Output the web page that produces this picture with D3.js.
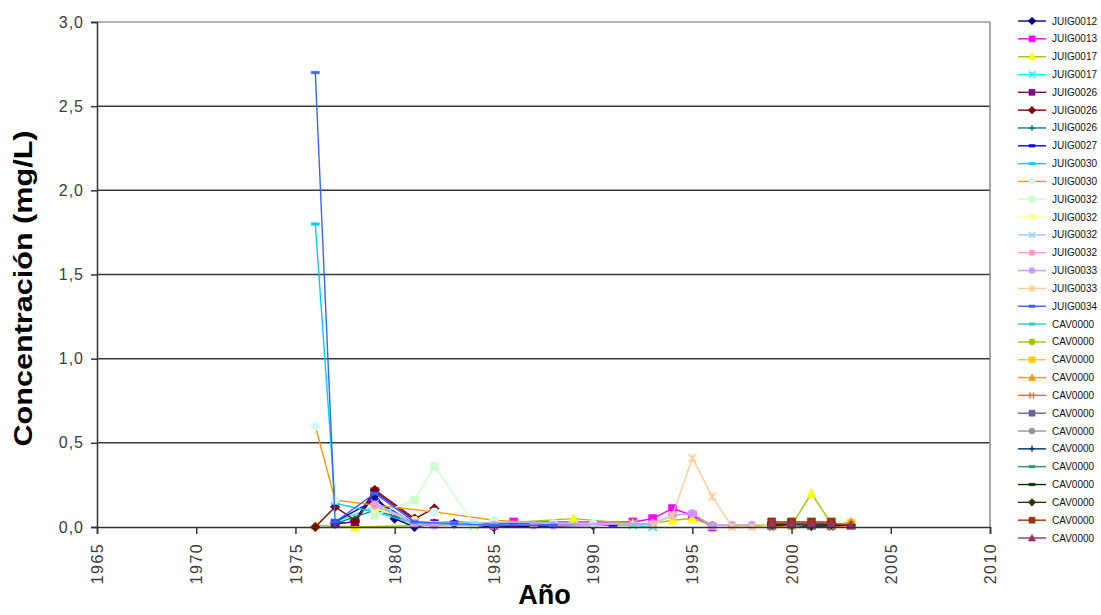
<!DOCTYPE html>
<html>
<head>
<meta charset="utf-8">
<script src="https://cdn.jsdelivr.net/npm/d3@7"></script>
<style>
  html, body { margin: 0; padding: 0; background: #fff; overflow: hidden; }
  text { font-family: "Liberation Sans", Arial, sans-serif; }
</style>
</head>
<body>
<svg id="chart" width="1101" height="615"></svg>
<script>
// Concentration (mg/L) per sampling point: [year, value]
const juig00123 = [[1977,0.02],[1978,0.03],[1979,0.19],[1980,0.05],[1981,0.0],[1982,0.02],[1983,0.02],[1985,0.0],[1990,0.01]];
const juig00138 = [[1985,0.01],[1986,0.03],[1992,0.03],[1993,0.05],[1994,0.11],[1995,0.07],[1996,0.0]];
const juig00174 = [[1976,0.01],[1978,0.0],[1985,0.02],[1989,0.05],[1992,0.02],[1993,0.02],[1994,0.04],[1995,0.05],[1996,0.01],[2000,0.01],[2001,0.20],[2002,0.02]];
const juig00175 = [[1977,0.03],[1979,0.12],[1981,0.03],[1984,0.01],[1992,0.01],[1993,0.0]];
const juig00261 = [[1977,0.02],[1978,0.03],[1979,0.21],[1981,0.04],[1982,0.02]];
const juig00262 = [[1976,0.0],[1977,0.12],[1978,0.04],[1979,0.22],[1981,0.05],[1982,0.11]];
const juig00263 = [[1977,0.02],[1979,0.10],[1981,0.03],[1983,0.02]];
const juig00271 = [[1977,0.03],[1979,0.16],[1981,0.02],[1983,0.03],[1985,0.02],[1987,0.02],[1988,0.01],[1990,0.02],[1991,0.01]];
const juig00301 = [[1976,1.80],[1977,0.14],[1979,0.09],[1981,0.02],[1983,0.02]];
const juig00302 = [[1976,0.60],[1977,0.16],[1979,0.13],[1982,0.09],[1985,0.04],[1988,0.02],[1990,0.02]];
const juig00321 = [[1979,0.07],[1981,0.16],[1982,0.36],[1984,0.02],[1985,0.03]];
const juig00322 = [[1979,0.11],[1981,0.04],[1984,0.01]];
const juig00323 = [[1979,0.14],[1981,0.03],[1992,0.02],[1993,0.01]];
const juig00324 = [[1979,0.13],[1981,0.02]];
const juig00331 = [[1981,0.02],[1982,0.01],[1985,0.01],[1987,0.01],[1988,0.01],[1993,0.02],[1994,0.07],[1995,0.08],[1996,0.01],[1997,0.01],[1998,0.01]];
const juig00332 = [[1993,0.01],[1994,0.07],[1995,0.41],[1996,0.18],[1997,0.0],[1998,0.0],[1999,0.01]];
const juig00341 = [[1976,2.70],[1977,0.03],[1979,0.20],[1981,0.03],[1983,0.02],[1985,0.01],[1988,0.01]];
const cav00001 = [[1999,0.01],[2000,0.01],[2001,0.01],[2002,0.01],[2003,0.01]];
const cav00002 = [[1999,0.02],[2000,0.01],[2001,0.02],[2002,0.01]];
const cav00003 = [[1999,0.01],[2000,0.01],[2001,0.01],[2002,0.02],[2003,0.02]];
const cav00004 = [[1999,0.01],[2000,0.02],[2001,0.01],[2002,0.01],[2003,0.03]];
const cav00005 = [[1999,0.0],[2000,0.01],[2001,0.01],[2002,0.0],[2003,0.01]];
const cav00006 = [[1999,0.01],[2000,0.02],[2001,0.01],[2002,0.01]];
const cav00007 = [[1999,0.02],[2000,0.01],[2001,0.02],[2002,0.01]];
const cav00008 = [[1999,0.01],[2000,0.01],[2001,0.0],[2002,0.01],[2003,0.01]];
const cav00009 = [[1999,0.02],[2000,0.01],[2001,0.01],[2002,0.02]];
const cav00010 = [[1999,0.01],[2000,0.02],[2001,0.02],[2002,0.01],[2003,0.01]];
const cav00011 = [[1999,0.02],[2000,0.02],[2001,0.01],[2002,0.02]];
const cav00012 = [[1999,0.03],[2000,0.03],[2001,0.03],[2002,0.03]];
const cav00013 = [[1999,0.02],[2000,0.02],[2001,0.02],[2002,0.02],[2003,0.01]];

// Legend labels (short point codes)
const seriesNames = [
  "JUIG0012","JUIG0013","JUIG0017","JUIG0017","JUIG0026","JUIG0026","JUIG0026",
  "JUIG0027","JUIG0030","JUIG0030","JUIG0032","JUIG0032","JUIG0032","JUIG0032",
  "JUIG0033","JUIG0033","JUIG0034",
  "CAV0000","CAV0000","CAV0000","CAV0000","CAV0000","CAV0000","CAV0000",
  "CAV0000","CAV0000","CAV0000","CAV0000","CAV0000","CAV0000"
];
const seriesValues = [
  juig00123, juig00138, juig00174, juig00175, juig00261, juig00262, juig00263,
  juig00271, juig00301, juig00302, juig00321, juig00322, juig00323, juig00324,
  juig00331, juig00332, juig00341,
  cav00001, cav00002, cav00003, cav00004, cav00005, cav00006, cav00007,
  cav00008, cav00009, cav00010, cav00011, cav00012, cav00013
];
const xTicks = [1965, 1970, 1975, 1980, 1985, 1990, 1995, 2000, 2005, 2010];
const yTicks = [0, 0.5, 1.0, 1.5, 2.0, 2.5, 3.0];

// Line colour, marker fill and marker shape for each series
const lineColors = [
  "#000080","#FF00FF","#99CC00","#00FFFF","#800080","#800000","#008080",
  "#0000FF","#00CCFF","#FF9900","#CCFFCC","#FFFF99","#99CCFF","#FF99CC",
  "#CC99FF","#FFCC99","#3366FF",
  "#33CCCC","#99CC00","#FFCC00","#FF9900","#FF6600","#666699","#969696",
  "#003366","#339966","#003300","#333300","#993300","#993366"
];
const markerColors = [
  "#000080","#FF00FF","#FFFF00","#00FFFF","#800080","#800000","#008080",
  "#0000FF","#00CCFF","#CCFFFF","#CCFFCC","#FFFF99","#99CCFF","#FF99CC",
  "#CC99FF","#FFCC99","#3366FF",
  "#33CCCC","#99CC00","#FFCC00","#FF9900","#FF6600","#666699","#969696",
  "#003366","#339966","#003300","#333300","#993300","#993366"
];
const markerShapes = [
  "diamond","square","triangle","x","square","diamond","plus",
  "dash","dash","circle","square","circle","x","circle",
  "circle","star","dash",
  "dash","circle","square","triangle","bars","square","circle",
  "plus","dash","dash","diamond","square","triangle"
];

const svg = d3.select("#chart");
const margin = { left: 97, right: 111, top: 22, bottom: 88 };
const W = 1101, H = 615;

const x = d3.scaleLinear().domain([1965, 2010]).range([margin.left, W - margin.right]);
const y = d3.scaleLinear().domain([0, 3]).range([H - margin.bottom, margin.top]);

// Horizontal gridlines
svg.append("g").selectAll("line")
  .data(yTicks.filter(v => v > 0))
  .join("line")
  .attr("x1", x(1965)).attr("x2", x(2010))
  .attr("y1", d => y(d)).attr("y2", d => y(d))
  .attr("stroke", d => d === 3 ? "#9a9a9a" : "#3a3a3a")
  .attr("stroke-width", 1.5);

// Right border of the plot area
svg.append("line")
  .attr("x1", x(2010)).attr("x2", x(2010))
  .attr("y1", y(3)).attr("y2", y(0))
  .attr("stroke", "#8a8a8a").attr("stroke-width", 1.5);

// Marker shapes
function markerPath(shape, s) {
  const h = s / 2;
  switch (shape) {
    case "diamond": return `M0,${-h-0.8}L${h+0.8},0L0,${h+0.8}L${-h-0.8},0Z`;
    case "square": return `M${-h},${-h}H${h}V${h}H${-h}Z`;
    case "triangle": return `M0,${-h-0.8}L${h+0.6},${h}L${-h-0.6},${h}Z`;
    case "circle": return d3.symbol(d3.symbolCircle, s * s * 0.8)();
    case "x": return `M${-h},${-h}L${h},${h}M${-h},${h}L${h},${-h}`;
    case "plus": return `M${-h},0H${h}M0,${-h}V${h}`;
    case "star": return `M${-h},${-h}L${h},${h}M${-h},${h}L${h},${-h}M0,${-h}V${h}`;
    case "dash": return `M${-h},-1.2H${h}V1.2H${-h}Z`;
    case "bars": return `M-2,${-h}V${h}M1.5,${-h}V${h}`;
  }
}
const strokeShapes = new Set(["x", "plus", "star", "bars"]);

function drawMarker(g, shape, color, size) {
  const p = g.append("path").attr("d", markerPath(shape, size));
  if (strokeShapes.has(shape)) {
    p.attr("fill", "none").attr("stroke", color).attr("stroke-width", 1.4);
  } else {
    p.attr("fill", color).attr("stroke", color).attr("stroke-width", 0.6);
  }
}

const line = d3.line().x(d => x(d[0])).y(d => y(d[1]));

// Series lines and markers
const plot = svg.append("g");
seriesValues.forEach((vals, i) => {
  const g = plot.append("g");
  g.append("path")
    .datum(vals)
    .attr("d", line)
    .attr("fill", "none")
    .attr("stroke", lineColors[i])
    .attr("stroke-width", 1.4);
  vals.forEach(d => {
    const m = g.append("g").attr("transform", `translate(${x(d[0])},${y(d[1])})`);
    drawMarker(m, markerShapes[i], markerColors[i], 8);
  });
});

// Axes
const yAxis = d3.axisLeft(y)
  .tickValues(yTicks)
  .tickFormat(d => d.toFixed(1).replace(".", ","))
  .tickSize(6).tickPadding(7);
const gy = svg.append("g").attr("transform", `translate(${x(1965)},0)`).call(yAxis);
gy.select(".domain").attr("stroke", "#333").attr("stroke-width", 1.5);
gy.selectAll(".tick line").attr("stroke", "#333").attr("stroke-width", 1.5);
gy.selectAll(".tick text")
  .attr("fill", "#3c3c3c")
  .style("font-size", "16px")
  .style("letter-spacing", "1px");

const xAxis = d3.axisBottom(x)
  .tickValues(xTicks)
  .tickFormat(d3.format("d"))
  .tickSize(7);
const gx = svg.append("g").attr("transform", `translate(0,${y(0)})`).call(xAxis);
gx.select(".domain").attr("stroke", "#333").attr("stroke-width", 1.5);
gx.selectAll(".tick line").attr("stroke", "#333").attr("stroke-width", 1.5);
gx.selectAll(".tick text")
  .attr("fill", "#3c3c3c")
  .attr("transform", "rotate(-90)")
  .attr("x", -16).attr("y", 0).attr("dy", "0.35em")
  .style("text-anchor", "end")
  .style("font-size", "16px")
  .style("letter-spacing", "1.4px");

// Axis titles
svg.append("text")
  .attr("transform", `translate(${W / 2 - 6},${H - 11})`)
  .attr("text-anchor", "middle")
  .style("font-size", "27px").style("font-weight", "bold")
  .attr("fill", "#000")
  .text("Año");

svg.append("text")
  .attr("transform", `translate(32,${(y(0) + y(3)) / 2 + 14}) rotate(-90)`)
  .attr("text-anchor", "middle")
  .attr("textLength", 316)
  .attr("lengthAdjust", "spacingAndGlyphs")
  .style("font-size", "25px").style("font-weight", "bold")
  .attr("fill", "#000")
  .text("Concentración (mg/L)");

// Legend
const legend = svg.append("g");
const legendY = d3.scaleLinear().domain([0, seriesNames.length - 1]).range([21, 538]);
seriesNames.forEach((name, i) => {
  const row = legend.append("g").attr("transform", `translate(0,${legendY(i)})`);
  row.append("line")
    .attr("x1", 1018).attr("x2", 1046)
    .attr("stroke", lineColors[i]).attr("stroke-width", 1.4);
  const m = row.append("g").attr("transform", "translate(1032,0)");
  drawMarker(m, markerShapes[i], markerColors[i], 6);
  row.append("text")
    .attr("x", 1052).attr("y", 0).attr("dy", "0.35em")
    .style("font-size", "10px")
    .attr("fill", "#111")
    .text(name);
});
</script>
</body>
</html>
